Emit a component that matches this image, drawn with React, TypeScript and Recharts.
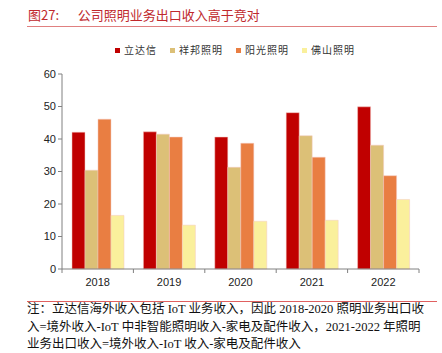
import { BarChart, Bar, XAxis, YAxis } from 'recharts';

const years = ['2018', '2019', '2020', '2021', '2022'];
const leedarson = [42.1, 42.2, 40.6, 48.1, 49.9];
const xiangbang = [30.4, 41.5, 31.3, 41.0, 38.1];
const yangguang = [46.1, 40.6, 38.7, 34.4, 28.7];
const foshan = [16.5, 13.5, 14.7, 15.0, 21.4];
const yTicks = [0, 10, 20, 30, 40, 50, 60];

const series = [
  { key: 'leedarson', name: '立达信', color: '#C00000' },
  { key: 'xiangbang', name: '祥邦照明', color: '#DCC077' },
  { key: 'yangguang', name: '阳光照明', color: '#E97E42' },
  { key: 'foshan', name: '佛山照明', color: '#FAF09C' },
];

const notes = [
  '注：立达信海外收入包括 IoT 业务收入，因此 2018-2020 照明业务出口收',
  '入=境外收入-IoT 中非智能照明收入-家电及配件收入，2021-2022 年照明',
  '业务出口收入=境外收入-IoT 收入-家电及配件收入',
];

const data = years.map((year, i) => ({
  year,
  leedarson: leedarson[i],
  xiangbang: xiangbang[i],
  yangguang: yangguang[i],
  foshan: foshan[i],
}));

const cjk = '"Noto Sans CJK SC", "Liberation Sans", sans-serif';

function XTick(props: any) {
  const { x, y, payload, index } = props;
  const half = payload.offset ?? 35.7;
  return (
    <g>
      <line x1={x - half} y1={y - 8} x2={x - half} y2={y - 4} stroke="#808080" />
      {index === years.length - 1 && (
        <line x1={x + half} y1={y - 8} x2={x + half} y2={y - 4} stroke="#808080" />
      )}
      <text x={x} y={y + 9} textAnchor="middle" fontSize={11} fill="#222" fontFamily='"Liberation Sans", Arial, sans-serif'>
        {payload.value}
      </text>
    </g>
  );
}

export default function App() {
  return (
    <div style={{ position: 'absolute', left: 0, top: 0, width: 442, height: 353, background: '#fff', fontFamily: cjk }}>
      <div style={{ position: 'absolute', left: 28, top: 5, fontSize: 13, color: '#C0282D', whiteSpace: 'pre' }}>
        {'图27:　  公司照明业务出口收入高于竞对'}
      </div>
      <div style={{ position: 'absolute', left: 27, top: 26, width: 410, height: 1, background: '#E08080' }} />

      <div style={{ position: 'absolute', left: 115, top: 43, display: 'flex', fontSize: 10, color: '#333', lineHeight: '14px' }}>
        {series.map((s) => (
          <div key={s.key} style={{ display: 'flex', alignItems: 'center', marginRight: 13, letterSpacing: 1 }}>
            <span style={{ width: 5, height: 5, background: s.color, marginRight: 4, display: 'inline-block' }} />
            {s.name}
          </div>
        ))}
      </div>

      <div style={{ position: 'absolute', left: 0, top: 0 }}>
        <BarChart
          width={442}
          height={290}
          data={data}
          margin={{ top: 74, right: 23, left: 0, bottom: 1 }}
          barCategoryGap="14%"
          barGap={0}
        >
          <XAxis
            dataKey="year"
            stroke="#808080"
            tickLine={false}
            tick={<XTick />}
            height={20}
            interval={0}
          />
          <YAxis
            domain={[0, 60]}
            ticks={yTicks}
            width={62}
            stroke="#808080"
            tickSize={4}
            tick={{ fontSize: 11, fill: '#222', fontFamily: '"Liberation Sans", Arial, sans-serif' }}
          />
          {series.map((s) => (
            <Bar
              key={s.key}
              dataKey={s.key}
              name={s.name}
              fill={s.color}
              stroke="#F4C8C0"
              strokeWidth={0.5}
              isAnimationActive={false}
            />
          ))}
        </BarChart>
      </div>

      <div style={{ position: 'absolute', left: 27, top: 301, width: 410, height: 1, background: '#E06060' }} />
      <div
        style={{
          position: 'absolute',
          left: 27,
          top: 301,
          fontSize: 12.5,
          lineHeight: '17.5px',
          color: '#111',
          whiteSpace: 'nowrap',
          fontFamily: '"Liberation Serif", "Noto Sans CJK SC", serif',
        }}
      >
        {notes.map((line, i) => (
          <div key={i}>{line}</div>
        ))}
      </div>
    </div>
  );
}
